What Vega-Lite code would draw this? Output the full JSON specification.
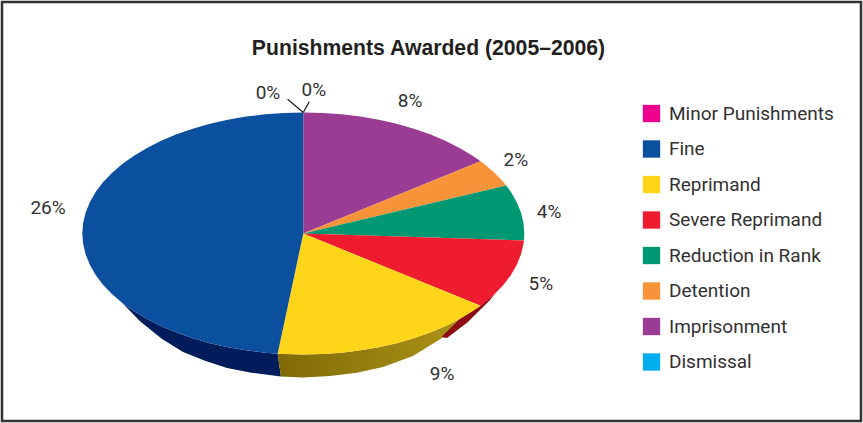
{
"$schema":"https://vega.github.io/schema/vega-lite/v6.json",
"width":859,"height":419,"padding":2,"autosize":{"type":"none"},
"background":"white",
"view":{"stroke":"#333132","strokeWidth":2.5,"fill":"white"},
"title":{"text":"Punishments Awarded (2005–2006)","font":"Liberation Sans","fontSize":21.2,"fontWeight":"bold","color":"#231f20","anchor":"middle","frame":"group","orient":"top","offset":-57,"dx":-3},
"datasets":{
"wedges":[
{"slice":"Imprisonment","share":8,"i":0,"u":0,"v":0},
{"slice":"Imprisonment","share":8,"i":1,"u":0,"v":1},
{"slice":"Imprisonment","share":8,"i":2,"u":0.0872,"v":0.9962},
{"slice":"Imprisonment","share":8,"i":3,"u":0.1736,"v":0.9848},
{"slice":"Imprisonment","share":8,"i":4,"u":0.2588,"v":0.9659},
{"slice":"Imprisonment","share":8,"i":5,"u":0.342,"v":0.9397},
{"slice":"Imprisonment","share":8,"i":6,"u":0.4226,"v":0.9063},
{"slice":"Imprisonment","share":8,"i":7,"u":0.5,"v":0.866},
{"slice":"Imprisonment","share":8,"i":8,"u":0.5736,"v":0.8192},
{"slice":"Imprisonment","share":8,"i":9,"u":0.6428,"v":0.766},
{"slice":"Imprisonment","share":8,"i":10,"u":0.7071,"v":0.7071},
{"slice":"Imprisonment","share":8,"i":11,"u":0.766,"v":0.6428},
{"slice":"Imprisonment","share":8,"i":12,"u":0.8021,"v":0.5972},
{"slice":"Detention","share":2,"i":0,"u":0,"v":0},
{"slice":"Detention","share":2,"i":1,"u":0.8021,"v":0.5972},
{"slice":"Detention","share":2,"i":2,"u":0.8192,"v":0.5736},
{"slice":"Detention","share":2,"i":3,"u":0.866,"v":0.5},
{"slice":"Detention","share":2,"i":4,"u":0.9063,"v":0.4226},
{"slice":"Detention","share":2,"i":5,"u":0.9182,"v":0.3961},
{"slice":"Reduction in Rank","share":4,"i":0,"u":0,"v":0},
{"slice":"Reduction in Rank","share":4,"i":1,"u":0.9182,"v":0.3961},
{"slice":"Reduction in Rank","share":4,"i":2,"u":0.9397,"v":0.342},
{"slice":"Reduction in Rank","share":4,"i":3,"u":0.9659,"v":0.2588},
{"slice":"Reduction in Rank","share":4,"i":4,"u":0.9848,"v":0.1736},
{"slice":"Reduction in Rank","share":4,"i":5,"u":0.9962,"v":0.0872},
{"slice":"Reduction in Rank","share":4,"i":6,"u":1,"v":0},
{"slice":"Reduction in Rank","share":4,"i":7,"u":0.9983,"v":-0.0581},
{"slice":"Severe Reprimand","share":5,"i":0,"u":0,"v":0},
{"slice":"Severe Reprimand","share":5,"i":1,"u":0.9983,"v":-0.0581},
{"slice":"Severe Reprimand","share":5,"i":2,"u":0.9962,"v":-0.0872},
{"slice":"Severe Reprimand","share":5,"i":3,"u":0.9848,"v":-0.1736},
{"slice":"Severe Reprimand","share":5,"i":4,"u":0.9659,"v":-0.2588},
{"slice":"Severe Reprimand","share":5,"i":5,"u":0.9397,"v":-0.342},
{"slice":"Severe Reprimand","share":5,"i":6,"u":0.9063,"v":-0.4226},
{"slice":"Severe Reprimand","share":5,"i":7,"u":0.866,"v":-0.5},
{"slice":"Severe Reprimand","share":5,"i":8,"u":0.8192,"v":-0.5736},
{"slice":"Severe Reprimand","share":5,"i":9,"u":0.8021,"v":-0.5972},
{"slice":"Reprimand","share":9,"i":0,"u":0,"v":0},
{"slice":"Reprimand","share":9,"i":1,"u":0.8021,"v":-0.5972},
{"slice":"Reprimand","share":9,"i":2,"u":0.766,"v":-0.6428},
{"slice":"Reprimand","share":9,"i":3,"u":0.7071,"v":-0.7071},
{"slice":"Reprimand","share":9,"i":4,"u":0.6428,"v":-0.766},
{"slice":"Reprimand","share":9,"i":5,"u":0.5736,"v":-0.8192},
{"slice":"Reprimand","share":9,"i":6,"u":0.5,"v":-0.866},
{"slice":"Reprimand","share":9,"i":7,"u":0.4226,"v":-0.9063},
{"slice":"Reprimand","share":9,"i":8,"u":0.342,"v":-0.9397},
{"slice":"Reprimand","share":9,"i":9,"u":0.2588,"v":-0.9659},
{"slice":"Reprimand","share":9,"i":10,"u":0.1736,"v":-0.9848},
{"slice":"Reprimand","share":9,"i":11,"u":0.0872,"v":-0.9962},
{"slice":"Reprimand","share":9,"i":12,"u":0,"v":-1},
{"slice":"Reprimand","share":9,"i":13,"u":-0.0872,"v":-0.9962},
{"slice":"Reprimand","share":9,"i":14,"u":-0.1161,"v":-0.9932},
{"slice":"Fine","share":26,"i":0,"u":0,"v":0},
{"slice":"Fine","share":26,"i":1,"u":-0.1161,"v":-0.9932},
{"slice":"Fine","share":26,"i":2,"u":-0.1736,"v":-0.9848},
{"slice":"Fine","share":26,"i":3,"u":-0.2588,"v":-0.9659},
{"slice":"Fine","share":26,"i":4,"u":-0.342,"v":-0.9397},
{"slice":"Fine","share":26,"i":5,"u":-0.4226,"v":-0.9063},
{"slice":"Fine","share":26,"i":6,"u":-0.5,"v":-0.866},
{"slice":"Fine","share":26,"i":7,"u":-0.5736,"v":-0.8192},
{"slice":"Fine","share":26,"i":8,"u":-0.6428,"v":-0.766},
{"slice":"Fine","share":26,"i":9,"u":-0.7071,"v":-0.7071},
{"slice":"Fine","share":26,"i":10,"u":-0.766,"v":-0.6428},
{"slice":"Fine","share":26,"i":11,"u":-0.8192,"v":-0.5736},
{"slice":"Fine","share":26,"i":12,"u":-0.866,"v":-0.5},
{"slice":"Fine","share":26,"i":13,"u":-0.9063,"v":-0.4226},
{"slice":"Fine","share":26,"i":14,"u":-0.9397,"v":-0.342},
{"slice":"Fine","share":26,"i":15,"u":-0.9659,"v":-0.2588},
{"slice":"Fine","share":26,"i":16,"u":-0.9848,"v":-0.1736},
{"slice":"Fine","share":26,"i":17,"u":-0.9962,"v":-0.0872},
{"slice":"Fine","share":26,"i":18,"u":-1,"v":0},
{"slice":"Fine","share":26,"i":19,"u":-0.9962,"v":0.0872},
{"slice":"Fine","share":26,"i":20,"u":-0.9848,"v":0.1736},
{"slice":"Fine","share":26,"i":21,"u":-0.9659,"v":0.2588},
{"slice":"Fine","share":26,"i":22,"u":-0.9397,"v":0.342},
{"slice":"Fine","share":26,"i":23,"u":-0.9063,"v":0.4226},
{"slice":"Fine","share":26,"i":24,"u":-0.866,"v":0.5},
{"slice":"Fine","share":26,"i":25,"u":-0.8192,"v":0.5736},
{"slice":"Fine","share":26,"i":26,"u":-0.766,"v":0.6428},
{"slice":"Fine","share":26,"i":27,"u":-0.7071,"v":0.7071},
{"slice":"Fine","share":26,"i":28,"u":-0.6428,"v":0.766},
{"slice":"Fine","share":26,"i":29,"u":-0.5736,"v":0.8192},
{"slice":"Fine","share":26,"i":30,"u":-0.5,"v":0.866},
{"slice":"Fine","share":26,"i":31,"u":-0.4226,"v":0.9063},
{"slice":"Fine","share":26,"i":32,"u":-0.342,"v":0.9397},
{"slice":"Fine","share":26,"i":33,"u":-0.2588,"v":0.9659},
{"slice":"Fine","share":26,"i":34,"u":-0.1736,"v":0.9848},
{"slice":"Fine","share":26,"i":35,"u":-0.0872,"v":0.9962},
{"slice":"Fine","share":26,"i":36,"u":0,"v":1}
],
"fineSide":[
{"i":0,"u":-0.1161,"v":-0.9932},
{"i":1,"u":-0.1736,"v":-0.9848},
{"i":2,"u":-0.2588,"v":-0.9659},
{"i":3,"u":-0.342,"v":-0.9397},
{"i":4,"u":-0.4226,"v":-0.9063},
{"i":5,"u":-0.5,"v":-0.866},
{"i":6,"u":-0.5736,"v":-0.8192},
{"i":7,"u":-0.6428,"v":-0.766},
{"i":8,"u":-0.7071,"v":-0.7071},
{"i":9,"u":-0.766,"v":-0.6428},
{"i":10,"u":-0.8192,"v":-0.5736},
{"i":11,"u":-0.736,"v":-0.729},
{"i":12,"u":-0.639,"v":-0.872},
{"i":13,"u":-0.544,"v":-0.979},
{"i":14,"u":-0.445,"v":-1.051},
{"i":15,"u":-0.345,"v":-1.112},
{"i":16,"u":-0.241,"v":-1.149},
{"i":17,"u":-0.101,"v":-1.182}
],
"reprimandSide":[
{"i":0,"u":-0.1161,"v":-0.9932},
{"i":1,"u":-0.0872,"v":-0.9962},
{"i":2,"u":0,"v":-1},
{"i":3,"u":0.0872,"v":-0.9962},
{"i":4,"u":0.1736,"v":-0.9848},
{"i":5,"u":0.2588,"v":-0.9659},
{"i":6,"u":0.342,"v":-0.9397},
{"i":7,"u":0.4226,"v":-0.9063},
{"i":8,"u":0.5,"v":-0.866},
{"i":9,"u":0.5736,"v":-0.8192},
{"i":10,"u":0.6428,"v":-0.766},
{"i":11,"u":0.7071,"v":-0.7071},
{"i":12,"u":0.628,"v":-0.864},
{"i":13,"u":0.496,"v":-1.012},
{"i":14,"u":0.361,"v":-1.103},
{"i":15,"u":0.242,"v":-1.15},
{"i":16,"u":0.121,"v":-1.178},
{"i":17,"u":-0.002,"v":-1.19},
{"i":18,"u":-0.101,"v":-1.182}
],
"severeSide":[
{"i":0,"u":0.866,"v":-0.5},
{"i":1,"u":0.8021,"v":-0.5972},
{"i":2,"u":0.7071,"v":-0.7071},
{"i":3,"u":0.625,"v":-0.855},
{"i":4,"u":0.65,"v":-0.864},
{"i":5,"u":0.745,"v":-0.731},
{"i":6,"u":0.845,"v":-0.55}
],
"leaders":[
{"leader":"Minor Punishments","i":0,"u":-0.071,"v":1.109},
{"leader":"Minor Punishments","i":1,"u":0,"v":1},
{"leader":"Dismissal","i":0,"u":0.027,"v":1.089},
{"leader":"Dismissal","i":1,"u":0,"v":1}
],
"labels":[
{"slice":"Fine","text":"26%","u":-1.155,"v":0.219},
{"slice":"Reprimand","text":"9%","u":0.628,"v":-1.153},
{"slice":"Severe Reprimand","text":"5%","u":1.075,"v":-0.409},
{"slice":"Reduction in Rank","text":"4%","u":1.112,"v":0.186},
{"slice":"Detention","text":"2%","u":0.962,"v":0.616},
{"slice":"Imprisonment","text":"8%","u":0.483,"v":1.103},
{"slice":"Minor Punishments","text":"0%","u":-0.16,"v":1.169},
{"slice":"Dismissal","text":"0%","u":0.048,"v":1.194}
]
},
"encoding":{
"x":{"field":"u","type":"quantitative","scale":{"domain":[-1.3633,2.5235],"nice":false,"zero":false},"axis":null},
"y":{"field":"v","type":"quantitative","scale":{"domain":[-1.5496,1.9132],"nice":false,"zero":false},"axis":null}
},
"layer":[
{"data":{"name":"fineSide"},"mark":{"type":"line","filled":true,"color":"#001c5b","strokeWidth":0},"encoding":{"order":{"field":"i","type":"quantitative"}}},
{"data":{"name":"reprimandSide"},"mark":{"type":"line","filled":true,"strokeWidth":0,"color":{"gradient":"linear","x1":0,"y1":0,"x2":1,"y2":0,"stops":[{"offset":0,"color":"#806a06"},{"offset":1,"color":"#ab9216"}]}},"encoding":{"order":{"field":"i","type":"quantitative"}}},
{"data":{"name":"severeSide"},"mark":{"type":"line","filled":true,"color":"#8c0a12","strokeWidth":0},"encoding":{"order":{"field":"i","type":"quantitative"}}},
{"data":{"name":"wedges"},"mark":{"type":"line","filled":true,"strokeWidth":0},
"encoding":{
"order":{"field":"i","type":"quantitative"},
"color":{"field":"slice","type":"nominal",
"scale":{"domain":["Minor Punishments","Fine","Reprimand","Severe Reprimand","Reduction in Rank","Detention","Imprisonment","Dismissal"],"range":["#ec008c","#0b4f9f","#ffd51a","#ee1c2e","#009872","#f7943a","#9b3c94","#00aeef"]},
"legend":{"title":null,"orient":"none","legendX":640,"legendY":102,"symbolType":"square","symbolSize":300,"symbolStrokeWidth":0,"labelFont":"Roboto","labelFontSize":19,"labelColor":"#333132","labelOffset":8,"rowPadding":15.5,"labelLimit":220}}
}},
{"data":{"name":"leaders"},"mark":{"type":"line","color":"#231f20","strokeWidth":1.3},"encoding":{"detail":{"field":"leader"},"order":{"field":"i","type":"quantitative"}}},
{"data":{"name":"labels"},"mark":{"type":"text","font":"Roboto","fontSize":19,"color":"#333132","align":"center","baseline":"middle","dy":1},"encoding":{"text":{"field":"text"}}}
]
}
